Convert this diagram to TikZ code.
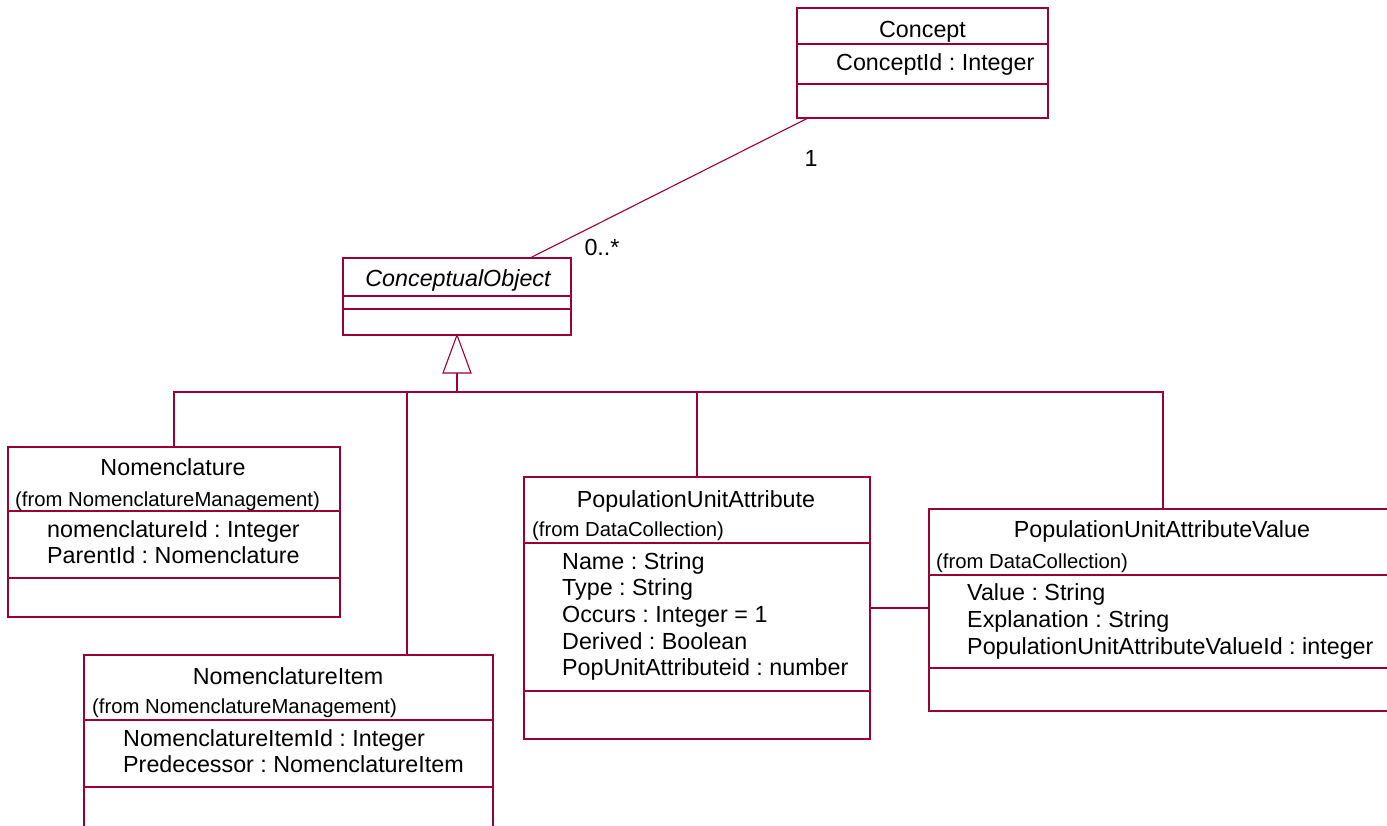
\documentclass[tikz,border=0pt]{standalone}
\usepackage{fontspec}
\setmainfont{Liberation Sans}
\usetikzlibrary{calc}
\definecolor{umlred}{RGB}{153,0,51}
\frenchspacing
\tikzset{
 classbox/.style={draw=umlred, line width=1.4pt, anchor=north west, inner sep=0pt, outer sep=0pt},
 divider/.style={draw=umlred, line width=1.2pt},
 conn/.style={draw=umlred, line width=1.1pt},
 big/.style={inner sep=0pt, font=\frenchspacing\fontsize{23.3}{28}\selectfont},
 small/.style={inner sep=0pt, font=\frenchspacing\fontsize{20.3}{24}\selectfont},
}
\begin{document}
\begin{tikzpicture}[x=1pt,y=-1pt]
\clip (0,0) rectangle (1387,825);
\fill[white] (0,0) rectangle (1387,825);

% Concept
\node[classbox, minimum width=251pt, minimum height=110pt] (concept) at (797,8) {};
\draw[divider] (797,44) -- (1048,44);
\draw[divider] (797,84) -- (1048,84);
\node[big, anchor=base] (conceptT) at (922.5,37) {Concept};
\node[big, anchor=base west] (conceptA) at (836,70) {ConceptId : Integer};

% ConceptualObject
\node[classbox, minimum width=228pt, minimum height=77pt] (co) at (343,258) {};
\draw[divider] (343,296) -- (571,296);
\draw[divider] (343,309) -- (571,309);
\node[big, anchor=base] (coT) at (458,286) {\itshape ConceptualObject};

% Nomenclature
\node[classbox, minimum width=332pt, minimum height=170pt] (nom) at (8,447) {};
\draw[divider] (8,511) -- (340,511);
\draw[divider] (8,578) -- (340,578);
\node[big, anchor=base] (nomT) at (173,475) {Nomenclature};
\node[small, anchor=base west] (nomF) at (15,506) {(from NomenclatureManagement)};
\node[big, anchor=base west] (nomA1) at (47,537) {nomenclatureId : Integer};
\node[big, anchor=base west] (nomA2) at (47,563) {ParentId : Nomenclature};

% NomenclatureItem
\node[classbox, minimum width=409pt, minimum height=200pt] (ni) at (84,655) {};
\draw[divider] (84,720) -- (493,720);
\draw[divider] (84,787) -- (493,787);
\node[big, anchor=base] (niT) at (288,684) {NomenclatureItem};
\node[small, anchor=base west] (niF) at (92,713) {(from NomenclatureManagement)};
\node[big, anchor=base west] (niA1) at (123,746) {NomenclatureItemId : Integer};
\node[big, anchor=base west] (niA2) at (123,772) {Predecessor : NomenclatureItem};

% PopulationUnitAttribute
\node[classbox, minimum width=346pt, minimum height=262pt] (pua) at (524,477) {};
\draw[divider] (524,543) -- (870,543);
\draw[divider] (524,691) -- (870,691);
\node[big, anchor=base] (puaT) at (696,507) {PopulationUnitAttribute};
\node[small, anchor=base west] (puaF) at (532,536) {(from DataCollection)};
\node[big, anchor=base west] (puaA1) at (562,569) {Name : String};
\node[big, anchor=base west] (puaA2) at (562,595.7) {Type : String};
\node[big, anchor=base west] (puaA3) at (562,622.4) {Occurs : Integer = 1};
\node[big, anchor=base west] (puaA4) at (562,649.1) {Derived : Boolean};
\node[big, anchor=base west] (puaA5) at (562,675.8) {PopUnitAttributeid : number};

% PopulationUnitAttributeValue
\node[classbox, minimum width=468pt, minimum height=202pt] (puav) at (929,509) {};
\draw[divider] (929,575) -- (1397,575);
\draw[divider] (929,668) -- (1397,668);
\node[big, anchor=base] (puavT) at (1162,537) {PopulationUnitAttributeValue};
\node[small, anchor=base west] (puavF) at (936,568) {(from DataCollection)};
\node[big, anchor=base west] (puavA1) at (967,600) {Value : String};
\node[big, anchor=base west] (puavA2) at (967,627) {Explanation : String};
\node[big, anchor=base west] (puavA3) at (967,654) {PopulationUnitAttributeValueId : integer};

% association Concept -- ConceptualObject
\coordinate (asA) at ($(concept.south west)+(11,0)$);
\coordinate (asB) at ($(co.north west)+(187,0)$);
\draw[conn] (asA) -- (asB);
\node[big, anchor=center] (m1) at (811,158) {1};
\node[big, anchor=center] (m2) at (602,247) {0..*};

% generalization
\coordinate (triBase) at ($(co.south)+(0,38)$);
\draw[conn] (co.south) -- ($(co.south)+(-14,38)$) -- ($(co.south)+(14,38)$) -- cycle;
\coordinate (bus) at (457,392);
\draw[conn] (triBase) -- (bus);
\coordinate (niTop) at (407,655);
\draw[conn] (nom.north) -- (nom.north |- bus) -- (puav.north |- bus) -- (puav.north);
\draw[conn] (niTop) -- (niTop |- bus);
\draw[conn] (pua.north) -- (pua.north |- bus);

% association PUA -- PUAV
\coordinate (lk) at (0,608);
\draw[conn] (pua.east |- lk) -- (puav.west |- lk);
\end{tikzpicture}
\end{document}
